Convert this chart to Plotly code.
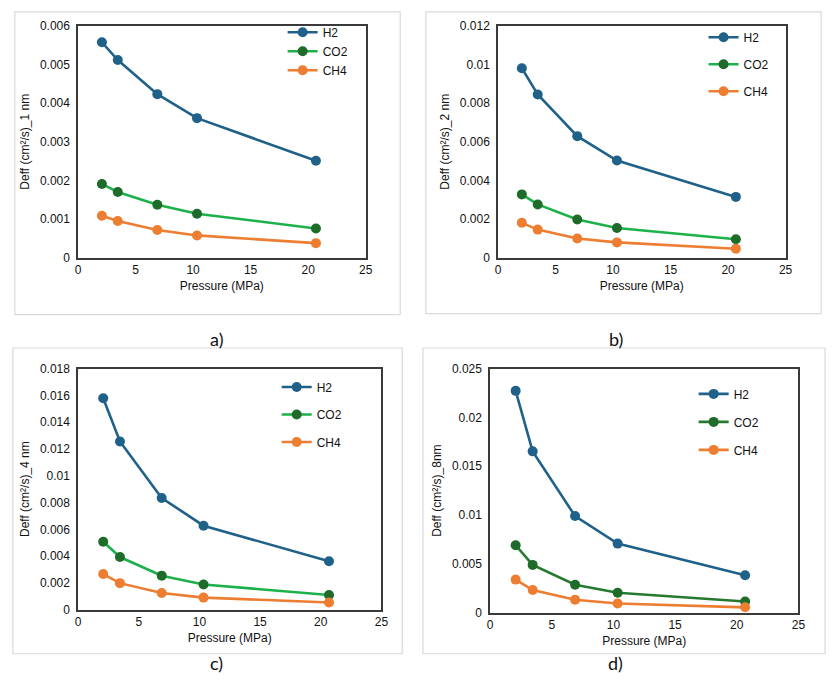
import plotly.graph_objects as go

pressure = [2.07, 3.45, 6.89, 10.34, 20.68]

h2_1nm = [0.00557, 0.00511, 0.00423, 0.00361, 0.00251]
co2_1nm = [0.00191, 0.00170, 0.00137, 0.00114, 0.00076]
ch4_1nm = [0.00109, 0.00095, 0.00072, 0.00058, 0.00038]

h2_2nm = [0.00980, 0.00844, 0.00629, 0.00503, 0.00315]
co2_2nm = [0.00328, 0.00276, 0.00198, 0.00154, 0.00096]
ch4_2nm = [0.00181, 0.00146, 0.00100, 0.00080, 0.00047]

h2_4nm = [0.01578, 0.01256, 0.00834, 0.00627, 0.00361]
co2_4nm = [0.00507, 0.00393, 0.00254, 0.00188, 0.00110]
ch4_4nm = [0.00266, 0.00198, 0.00124, 0.00090, 0.00054]

h2_8nm = [0.02272, 0.01652, 0.00989, 0.00707, 0.00382]
co2_8nm = [0.00690, 0.00489, 0.00285, 0.00204, 0.00114]
ch4_8nm = [0.00338, 0.00231, 0.00131, 0.00094, 0.00054]

gases = ["H2", "CO2", "CH4"]
panel_labels = ["a)", "b)", "c)", "d)"]
y_titles = ["Deff (cm²/s)_1 nm", "Deff (cm²/s)_2 nm", "Deff (cm²/s)_4 nm", "Deff (cm²/s)_8nm"]
y_max = [0.006, 0.012, 0.018, 0.025]
y_step = [0.001, 0.002, 0.002, 0.005]

W, H = 839, 698
FONT = "Liberation Sans, Arial, sans-serif"

panels = [
    [h2_1nm, co2_1nm, ch4_1nm],
    [h2_2nm, co2_2nm, ch4_2nm],
    [h2_4nm, co2_4nm, ch4_4nm],
    [h2_8nm, co2_8nm, ch4_8nm],
]

# plot areas in pixels: x0, x1, y0 (top), y1 (bottom)
areas = [(76, 367, 19, 256), (501, 792, 19, 256), (76, 383, 369, 615), (493, 805, 369, 618)]
boxes = [(12, 402, 5, 314), (428, 828, 5, 313), (10, 404, 348, 660), (425, 832, 348, 660)]
label_pos = [(207, 339), (630, 339), (207, 683), (629, 683)]
# legend left, top, gap between items
legend_pos = [(283, 11, 0), (709, 16, 8), (277, 373, 8.5), (699, 380, 9)]

blue = "#1f6189"
orange = "#ed7d31"
co2_line = ["#1db14b", "#1db14b", "#1db14b", "#267a30"]
co2_mark = "#1e6b2a"

fig = go.Figure()

for i, data in enumerate(panels):
    n = "" if i == 0 else str(i + 1)
    leg = "legend" + n
    styles = [
        (blue, blue),
        (co2_line[i], co2_mark),
        (orange, orange),
    ]
    for g, y, (lc, mc) in zip(gases, data, styles):
        fig.add_trace(go.Scatter(
            x=pressure, y=y, name=g, mode="lines+markers",
            line=dict(color=lc, width=2.6),
            marker=dict(color=mc, size=10),
            xaxis="x" + n, yaxis="y" + n, legend=leg, legendgroup=f"{g}{i}",
        ))

    x0, x1, y0, y1 = areas[i]
    ax = dict(
        showgrid=False, zeroline=False, showline=True, mirror=True,
        linecolor="#3a3a3a", linewidth=1.5, ticks="",
        tickfont=dict(family=FONT, size=12, color="#111"),
        title_font=dict(family=FONT, size=12, color="#111"),
    )
    fig.update_layout({
        "xaxis" + n: dict(ax, domain=[x0 / W, x1 / W], range=[0, 25], dtick=5,
                          anchor="y" + n, title=dict(text="Pressure (MPa)", standoff=6)),
        "yaxis" + n: dict(ax, domain=[1 - y1 / H, 1 - y0 / H], range=[0, y_max[i]],
                          dtick=y_step[i], tickformat="~g", anchor="x" + n,
                          ticklabelstandoff=4,
                          title=dict(text=y_titles[i], standoff=8)),
        leg: dict(x=legend_pos[i][0] / W, y=1 - legend_pos[i][1] / H,
                  xanchor="left", yanchor="top", bgcolor="rgba(0,0,0,0)",
                  font=dict(family=FONT, size=12, color="#111"),
                  tracegroupgap=legend_pos[i][2], traceorder="grouped"),
    })

    bx0, bx1, by0, by1 = boxes[i]
    fig.add_shape(type="rect", xref="paper", yref="paper",
                  x0=bx0 / W, x1=bx1 / W, y0=1 - by1 / H, y1=1 - by0 / H,
                  line=dict(color="#d9d9d9", width=1.2), layer="below")
    lx, ly = label_pos[i]
    fig.add_annotation(text=panel_labels[i], xref="paper", yref="paper",
                       x=lx / W, y=1 - ly / H, showarrow=False,
                       font=dict(family="Lato, sans-serif", size=18, color="#111"))

fig.update_layout(
    width=W, height=H,
    margin=dict(l=0, r=0, t=0, b=0),
    paper_bgcolor="white", plot_bgcolor="white",
)

# drop the page's default body margin so the figure sits at the window corner
fig.write_html(
    "out.html",
    config={"displayModeBar": False},
    post_script="document.body.style.margin='0';document.body.style.overflow='hidden';",
)
